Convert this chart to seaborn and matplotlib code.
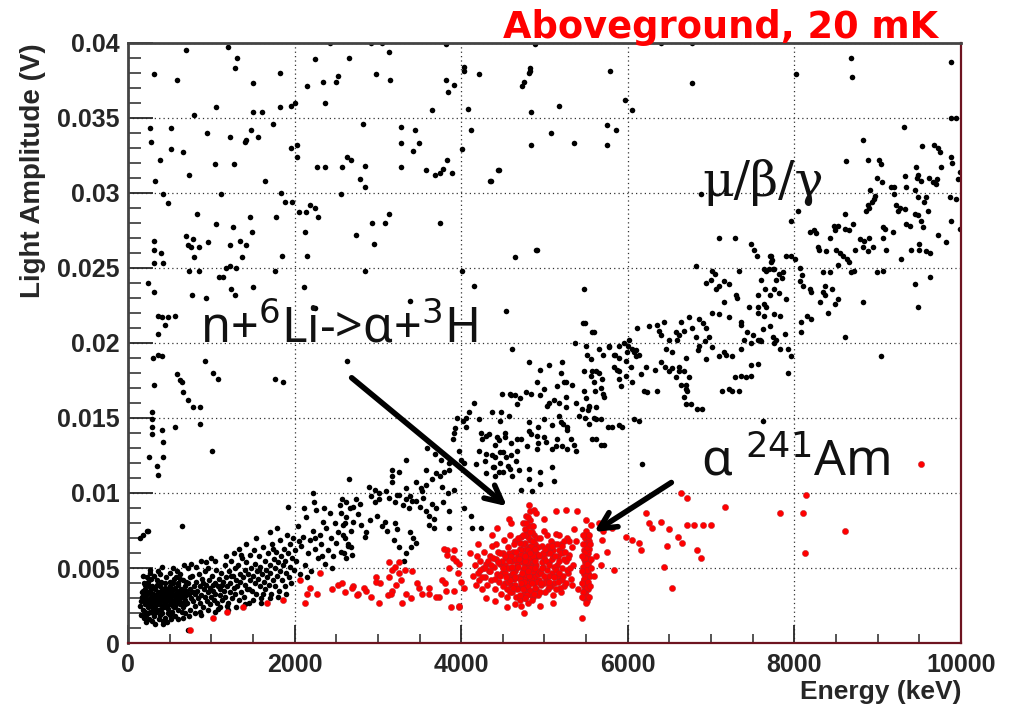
import pandas as pd
import matplotlib.pyplot as plt
import seaborn as sns
from matplotlib.ticker import MultipleLocator, FixedLocator, FixedFormatter

# Energy (keV), light amplitude (V)
gamma_low = [
    (160, .0028), (170, .0034), (175, .0022), (185, .0031), (190, .0040), (200, .0026), (205, .0036), (215, .0019),
    (220, .0030), (230, .0033), (235, .0024), (245, .0041), (250, .0029), (260, .0035), (265, .0021), (275, .0031),
    (280, .0027), (290, .0038), (295, .0023), (300, .0033), (310, .0029), (315, .0018), (320, .0036), (330, .0025),
    (335, .0031), (345, .0042), (350, .0028), (360, .0034), (365, .0022), (375, .0030), (380, .0038), (390, .0026),
    (395, .0032), (405, .0020), (410, .0036), (420, .0029), (430, .0024), (435, .0033), (445, .0040), (450, .0027),
    (460, .0031), (470, .0036), (475, .0023), (485, .0029), (490, .0034), (500, .0026), (510, .0038), (515, .0031),
    (525, .0021), (530, .0035), (540, .0028), (550, .0032), (555, .0043), (565, .0025), (570, .0037), (580, .0030),
    (590, .0034), (600, .0022), (605, .0039), (615, .0028), (620, .0033), (630, .0026), (640, .0036), (650, .0031),
    (655, .0042), (665, .0024), (670, .0035), (680, .0029), (690, .0038), (700, .0032), (255, .0016), (330, .0013),
    (420, .0015), (180, .0045), (270, .0047), (390, .0046), (470, .0014), (560, .0018), (210, .0039), (440, .0037),
    (165, .0031), (195, .0029), (225, .0027), (240, .0034), (270, .0025), (285, .0033), (305, .0027), (325, .0032),
    (340, .0021), (355, .0031), (370, .0026), (385, .0034), (400, .0029), (415, .0025), (425, .0034), (455, .0030),
    (465, .0025), (480, .0033), (495, .0031), (505, .0029), (520, .0033), (535, .0025), (545, .0036), (575, .0027),
    (585, .0032), (595, .0029), (610, .0035), (625, .0030), (645, .0027), (660, .0033), (675, .0031), (685, .0026),
    (695, .0035), (150, .0025), (200, .0021), (250, .0038), (300, .0020), (350, .0039), (400, .0023), (450, .0035),
    (500, .0041), (550, .0024), (600, .0040), (650, .0021), (700, .0041), (180, .0035), (280, .0043), (380, .0019),
    (480, .0020), (580, .0044), (680, .0020),
    (160, .0019), (190, .0017), (230, .0044), (260, .0049), (310, .0045), (360, .0048), (410, .0051), (460, .0044),
    (500, .0047), (540, .0050), (590, .0048), (630, .0046), (670, .0052), (220, .0014), (290, .0015), (370, .0016),
    (440, .0017), (520, .0016), (600, .0016), (660, .0017), (240, .0020), (320, .0022), (400, .0041), (540, .0040),
    (620, .0043), (210, .0033), (280, .0036), (345, .0026), (430, .0030), (515, .0036), (560, .0028), (635, .0032),
    (500, .0019), (720, .0050), (760, .0053), (820, .0051), (880, .0055), (940, .0054), (1000, .0057), (1050, .0055),
    (730, .0018), (800, .0020), (880, .0019), (960, .0022), (1040, .0021), (1110, .0024), (1180, .0058),
    (1270, .0060), (1330, .0063), (1420, .0066), (1200, .0022), (1300, .0024), (1400, .0026), (1500, .0029),
    (1600, .0027), (1700, .0030), (1800, .0031), (1900, .0033),
    (710, .0027), (720, .0040), (730, .0033), (740, .0022), (750, .0036), (760, .0030), (770, .0045), (780, .0028),
    (790, .0038), (800, .0033), (810, .0025), (820, .0041), (830, .0035), (840, .0030), (850, .0046), (860, .0027),
    (870, .0038), (880, .0032), (890, .0043), (900, .0024), (910, .0036), (920, .0031), (930, .0048), (940, .0039),
    (950, .0028), (960, .0034), (970, .0042), (980, .0026), (990, .0037), (1000, .0031), (1010, .0045), (1020, .0035),
    (1030, .0029), (1040, .0040), (1050, .0033), (1060, .0049), (1070, .0027), (1080, .0038), (1090, .0043),
    (1100, .0032), (1110, .0036), (1120, .0047), (1130, .0029), (1140, .0041), (1150, .0035), (1160, .0052),
    (1170, .0031), (1180, .0044), (1190, .0038), (1200, .0027), (1210, .0048), (1220, .0034), (1230, .0040),
    (1240, .0055), (1250, .0030), (1260, .0045), (1270, .0037), (1280, .0050), (1290, .0033), (1300, .0042),
    (745, .0044), (865, .0021), (955, .0050), (1075, .0023), (1185, .0025), (905, .0040), (1015, .0039),
    (785, .0034), (1125, .0039), (1235, .0045),
    (1310, .0038), (1320, .0052), (1330, .0029), (1340, .0046), (1350, .0041), (1360, .0034), (1370, .0057),
    (1380, .0044), (1390, .0031), (1400, .0049), (1410, .0039), (1420, .0054), (1430, .0036), (1440, .0046),
    (1450, .0027), (1460, .0059), (1470, .0042), (1480, .0050), (1490, .0035), (1500, .0045), (1510, .0062),
    (1520, .0040), (1530, .0053), (1540, .0033), (1550, .0048), (1560, .0043), (1570, .0058), (1580, .0038),
    (1590, .0051), (1600, .0030), (1610, .0046), (1620, .0064), (1630, .0041), (1640, .0055), (1650, .0036),
    (1660, .0049), (1670, .0044), (1680, .0060), (1690, .0039), (1700, .0052), (1710, .0047), (1720, .0033),
    (1730, .0066), (1740, .0042), (1750, .0056), (1760, .0050), (1770, .0038), (1780, .0061), (1790, .0045),
    (1800, .0054), (1810, .0035), (1820, .0069), (1830, .0048), (1840, .0058), (1850, .0042), (1860, .0052),
    (1870, .0063), (1880, .0038), (1890, .0055), (1900, .0047), (1910, .0072), (1920, .0060), (1930, .0044),
    (1940, .0066), (1950, .0051), (1960, .0040), (1970, .0057), (1980, .0070), (1990, .0049), (2000, .0062),
    (1355, .0059), (1535, .0070), (1705, .0074), (1455, .0036), (1625, .0033), (1785, .0077), (1575, .0049),
    (1745, .0063),
    (2020, .0055), (2040, .0078), (2060, .0046), (2080, .0065), (2100, .0071), (2120, .0052), (2140, .0084),
    (2160, .0060), (2180, .0069), (2200, .0048), (2220, .0075), (2240, .0063), (2260, .0089), (2280, .0057),
    (2300, .0072), (2320, .0066), (2340, .0081), (2360, .0053), (2380, .0077), (2400, .0062), (2420, .0087),
    (2440, .0070), (2460, .0058), (2480, .0080), (2500, .0067), (2520, .0074), (2540, .0092), (2560, .0061),
    (2580, .0079), (2600, .0070), (2620, .0084), (2640, .0066), (2660, .0090), (2680, .0075), (2700, .0081),
    (2110, .0090), (2230, .0094), (2330, .0058), (2450, .0050), (2570, .0096), (2690, .0059), (2150, .0044),
    (2350, .0090), (2050, .0068), (2250, .0070),
]

gamma_mid = [
    (2659, .0109), (2898, .0104), (2960, .0102), (3018, .0100), (3102, .0101), (2922, .0098), (2960, .0094),
    (3018, .0096), (2623, .0094), (2700, .0091), (2740, .0096), (2790, .0093), (3138, .0097), (3200, .0094),
    (3250, .0099), (3300, .0092), (3340, .0096), (3377, .0090), (3461, .0095), (3500, .0091), (3540, .0097),
    (3581, .0088), (3653, .0093), (3700, .0090), (3780, .0094), (3856, .0088), (3617, .0085), (3677, .0083),
    (4036, .0090), (4120, .0085), (3856, .0077), (4132, .0077), (4240, .0077), (2560, .0087), (2600, .0080),
    (2580, .0072), (2640, .0065), (2590, .0060), (2620, .0057), (2760, .0086), (2800, .0079), (2860, .0074),
    (2900, .0082), (2840, .0071), (2990, .0085), (3050, .0078), (3080, .0081), (3114, .0075), (3200, .0080),
    (3234, .0076), (3198, .0069), (3257, .0064), (3380, .0074), (3420, .0070), (3461, .0067), (3617, .0079),
    (3677, .0077), (3401, .0064), (3341, .0060), (3317, .0055), (2683, .0064),
    (3174, .0115), (3341, .0122), (3593, .0130), (3680, .0126), (3760, .0122), (3581, .0115), (3650, .0109),
    (3700, .0113), (3740, .0111), (3796, .0114), (3461, .0107), (3520, .0103), (3530, .0101), (3581, .0105),
    (3772, .0104), (3840, .0100), (3916, .0102), (3341, .0103), (3380, .0098), (3413, .0095), (3174, .0107),
    (3234, .0099), (3976, .0128), (4000, .0122), (4036, .0120), (3856, .0120), (3856, .0115),
    (4216, .0128), (4300, .0126), (4400, .0124), (4500, .0127), (4600, .0125), (4671, .0128), (4180, .0119),
    (4290, .0121), (4380, .0117), (4470, .0120), (4560, .0118), (4659, .0121), (4300, .0113), (4400, .0111),
    (4455, .0114), (4814, .0116), (4950, .0114), (5090, .0117), (4719, .0102), (4611, .0111),
    (3916, .0140), (4060, .0144), (4020, .0148), (4096, .0154), (4060, .0150), (4156, .0160), (4479, .0154),
    (4491, .0166), (4580, .0166), (4640, .0165), (4671, .0159), (4838, .0166), (4950, .0165), (5054, .0160),
    (4300, .0138), (4400, .0132), (4450, .0135), (4530, .0137), (4600, .0133), (4719, .0136), (4838, .0139),
    (4920, .0133), (5000, .0137), (5090, .0129), (5138, .0131),
    (4814, .0187), (4950, .0182), (5050, .0185), (5198, .0180), (5497, .0198), (5650, .0196), (5700, .0192),
    (5780, .0197), (5830, .0192), (5900, .0198), (6096, .0195), (4910, .0174), (5000, .0169), (5150, .0171),
    (5230, .0174), (5330, .0172), (5473, .0181), (5560, .0178), (5620, .0181), (5689, .0176), (5832, .0184),
    (5900, .0181), (5980, .0178), (6048, .0174), (6216, .0184), (6330, .0182), (6450, .0184), (6530, .0183),
    (6611, .0181), (6455, .0196), (6530, .0194), (6700, .0190), (6840, .0195), (6940, .0189), (7174, .0192),
    (6575, .0177), (6640, .0172), (6695, .0169), (6192, .0168), (6347, .0168), (7126, .0168), (7246, .0168),
    (7281, .0177), (7413, .0177), (7485, .0185), (7928, .0180), (6695, .0159), (6826, .0156), (7629, .0148),
    (4600, .0165), (4700, .0163), (4779, .0167), (5030, .0158), (5110, .0162), (5180, .0160), (5257, .0157),
    (5377, .0160), (5450, .0156), (5540, .0158), (5617, .0157), (4371, .0154), (4470, .0148), (4575, .0151),
    (4814, .0147), (4920, .0144), (5000, .0149), (5090, .0145), (5200, .0147), (5270, .0144), (5413, .0151),
    (5540, .0146), (5620, .0149), (5760, .0144), (5892, .0145), (6072, .0149), (4335, .0139), (4430, .0137),
    (4520, .0140), (4671, .0136), (4814, .0141), (4910, .0138), (5018, .0134), (4790, .0131), (4910, .0129),
    (5150, .0136), (5210, .0131), (5270, .0129), (5569, .0136), (5677, .0132), (4371, .0125), (4470, .0127),
    (4539, .0124), (4395, .0117), (4500, .0114), (4590, .0116), (4695, .0115), (4814, .0109), (4950, .0106),
    (5114, .0108), (4850, .0101), (4216, .0149), (4234, .0140), (4252, .0136),
]

gamma_high = [
    (7090, .0270), (7281, .0270), (7473, .0266), (7510, .0262), (7557, .0258), (7712, .0258), (7724, .0254),
    (6814, .0251), (7006, .0248), (7050, .0246), (7329, .0248), (7665, .0248), (7749, .0249), (6934, .0240),
    (7000, .0242), (7060, .0236), (7100, .0238), (7150, .0241), (7210, .0239), (7293, .0232), (7305, .0230),
    (7605, .0242), (7650, .0236), (7712, .0232), (7150, .0227), (7006, .0220), (7090, .0219), (7210, .0217),
    (7449, .0224), (7560, .0224), (7665, .0224), (7353, .0214), (7360, .0212), (7425, .0207), (7500, .0205),
    (7569, .0202), (7712, .0211), (7749, .0204), (6850, .0216), (6900, .0213), (6934, .0210), (6730, .0217),
    (6766, .0210), (6635, .0214), (6671, .0208), (6252, .0211), (6350, .0212), (6431, .0214), (6371, .0208),
    (6400, .0205), (6491, .0202), (6575, .0207), (6590, .0202), (6611, .0205), (6814, .0204), (6850, .0198),
    (6930, .0201), (6970, .0204), (7006, .0197), (7100, .0191), (7150, .0194), (7246, .0191), (7353, .0196),
    (7400, .0202), (7485, .0200), (7593, .0202), (7569, .0186), (7353, .0178), (7485, .0178), (7210, .0169),
    (7329, .0168), (6886, .0156), (6755, .0159), (6611, .0184), (6680, .0181), (6740, .0177), (6700, .0172),
    (6710, .0168), (6680, .0164), (6395, .0187), (6491, .0181), (6072, .0194), (6100, .0191), (6132, .0192),
    (5952, .0200), (6000, .0198), (6048, .0196), (5990, .0194), (5772, .0198), (5850, .0192), (5892, .0190),
    (6156, .0179), (6227, .0167), (6108, .0210), (6012, .0202), (5976, .0188), (6036, .0184), (5868, .0182),
    (5890, .0176), (5916, .0171), (5653, .0180), (5680, .0170), (5700, .0166), (5713, .0164), (5569, .0181),
    (5590, .0174), (5605, .0168), (5509, .0192), (5557, .0189), (5473, .0168), (5500, .0163), (5520, .0155),
    (5533, .0157), (5490, .0150), (5593, .0150), (5677, .0149), (5808, .0144), (5928, .0144), (5617, .0136),
    (5713, .0132), (5317, .0136), (5350, .0132), (5377, .0128), (5210, .0187), (5257, .0174), (5260, .0164),
    (5174, .0151), (5220, .0146), (5269, .0142), (5485, .0213), (5593, .0207), (6132, .0148), (6168, .0119),
    (9533, .0331), (9677, .0332), (9720, .0330), (9750, .0327), (9880, .0324), (9890, .0320), (9990, .0314),
    (8886, .0322), (9020, .0322), (9040, .0319), (9461, .0317), (9485, .0312), (9760, .0317), (8994, .0310),
    (9054, .0307), (9329, .0311), (9341, .0304), (9473, .0310), (9520, .0308), (9610, .0310), (9660, .0307),
    (9710, .0309), (9700, .0306), (9964, .0309), (9162, .0304), (9200, .0304), (9190, .0299), (8910, .0302),
    (8970, .0298), (8930, .0294), (8880, .0292), (8860, .0288), (8900, .0290), (8960, .0296), (9222, .0292),
    (9270, .0290), (9240, .0288), (9330, .0289), (9449, .0302), (9480, .0297), (9560, .0294), (9580, .0297),
    (9600, .0288), (9868, .0297), (9880, .0281), (9940, .0296), (9990, .0276), (9449, .0286), (9480, .0285),
    (9520, .0281), (9545, .0277), (9390, .0278), (9341, .0279), (9066, .0277), (9090, .0276), (9186, .0274),
    (8611, .0286), (8611, .0276), (8650, .0275), (8707, .0279), (8192, .0274), (8230, .0275), (8263, .0273),
    (8431, .0270), (8470, .0278), (8527, .0278), (8490, .0275), (7964, .0281), (8048, .0288), (8790, .0269),
    (8830, .0268), (8900, .0270), (8946, .0264), (9066, .0270), (9100, .0262), (9281, .0256), (9401, .0262),
    (9500, .0262), (9580, .0261), (9629, .0260), (9500, .0266), (9724, .0272), (9820, .0267), (8287, .0264),
    (8300, .0262), (8380, .0261), (8500, .0262), (8550, .0260), (8587, .0258), (8630, .0256), (8659, .0254),
    (8730, .0262), (8826, .0264), (8886, .0261), (7904, .0258), (7964, .0258), (8012, .0256), (7725, .0258),
    (7730, .0255), (7630, .0249), (7690, .0249), (7760, .0249), (7810, .0246), (7868, .0247), (7850, .0243),
    (7780, .0242), (8072, .0250), (8090, .0245), (8072, .0241), (8108, .0238), (8192, .0236), (8204, .0234),
    (8371, .0238), (8340, .0234), (8371, .0232), (8450, .0236), (8527, .0229), (8490, .0226), (8311, .0227),
    (8407, .0220), (8683, .0247), (8720, .0248), (8990, .0247), (9066, .0248), (8431, .0247), (8340, .0247),
    (8527, .0252), (8826, .0227), (9449, .0239), (9485, .0224), (9629, .0244), (7569, .0232), (7630, .0226),
    (7760, .0236), (7820, .0233), (7904, .0229), (7569, .0220), (7630, .0218), (7760, .0219), (7832, .0218),
    (7629, .0209), (7600, .0201), (7760, .0200), (7780, .0202), (7830, .0196), (7892, .0206), (8156, .0218),
    (8204, .0216), (8084, .0214), (8084, .0207), (8611, .0204), (9042, .0191), (7928, .0196), (7964, .0191),
]

black_sparse = [
    (695, .0395), (1198, .0397), (1305, .0390), (1281, .0383), (311, .0379), (587, .0375), (1820, .0380),
    (1497, .0373), (1054, .0357), (790, .0352), (1497, .0354), (1605, .0354), (1820, .0357), (1952, .0358),
    (2000, .0360), (263, .0343), (515, .0343), (946, .0340), (275, .0334), (515, .0329), (659, .0327),
    (383, .0322), (1222, .0337), (1401, .0334), (1420, .0335), (1473, .0342), (1557, .0337), (1737, .0346),
    (1952, .0330), (2024, .0332), (2024, .0324), (1042, .0319), (1270, .0319), (323, .0308), (731, .0312),
    (1641, .0308), (419, .0299), (1114, .0299), (1832, .0300), (1880, .0294), (1964, .0294), (479, .0293),
    (826, .0286), (1054, .0279), (1257, .0277), (1461, .0284), (1485, .0274), (1772, .0284), (2048, .0287),
    (311, .0268), (695, .0271), (780, .0269), (720, .0265), (760, .0264), (850, .0264), (960, .0267),
    (1222, .0265), (1340, .0268), (1420, .0265), (311, .0262), (400, .0260), (420, .0253), (311, .0253),
    (790, .0257), (1365, .0257), (1844, .0258), (731, .0248), (850, .0248), (1180, .0250), (1230, .0251),
    (1300, .0250), (1090, .0244), (1140, .0244), (1760, .0248), (239, .0240), (311, .0234), (770, .0232),
    (940, .0230), (1240, .0236), (1280, .0232), (1497, .0237), (2108, .0237), (360, .0218), (410, .0217),
    (480, .0217), (560, .0218), (450, .0212), (360, .0206),
    (2240, .0389), (2659, .0390), (3138, .0394), (2982, .0379), (2144, .0371), (2347, .0374), (2500, .0374),
    (2527, .0378), (3150, .0375), (2371, .0360), (2420, .0400), (2920, .0400), (3050, .0400), (3820, .0399),
    (3820, .0375), (3916, .0372), (3840, .0367), (4036, .0381), (4036, .0384), (3653, .0355), (4084, .0356),
    (2826, .0346), (3280, .0344), (3450, .0342), (3490, .0333), (3280, .0333), (3420, .0328), (4120, .0342),
    (2635, .0324), (2683, .0322), (2264, .0317), (2371, .0317), (2575, .0317), (2850, .0318), (3282, .0317),
    (2790, .0309), (2850, .0304), (3580, .0315), (3690, .0312), (3750, .0313), (3780, .0316), (3890, .0313),
    (3830, .0322), (4012, .0329), (4347, .0308), (4455, .0315), (4838, .0332), (4838, .0354), (4755, .0374),
    (4826, .0381), (4826, .0383), (4215, .0379), (4886, .0399), (2563, .0299), (2120, .0274), (2190, .0292),
    (2240, .0290), (2280, .0284), (2140, .0287), (2743, .0272), (2934, .0280), (3090, .0280), (3138, .0286),
    (2958, .0266), (2144, .0258), (2850, .0248), (3748, .0280), (4012, .0248), (4156, .0238), (4910, .0262),
    (4647, .0257), (3389, .0228), (4539, .0221), (2240, .0223),
    (5784, .0381), (5174, .0358), (5964, .0362), (6048, .0355), (5748, .0345), (5856, .0342), (5078, .0340),
    (5353, .0333), (5748, .0332), (6766, .0373), (6395, .0400), (6766, .0400), (8024, .0379), (8683, .0390),
    (8695, .0377), (9880, .0387), (9880, .0350), (9940, .0350), (9317, .0344), (8826, .0335), (8623, .0321),
    (6874, .0299), (4814, .0380), (4735, .0371), (4443, .0315), (4359, .0308), (4898, .0262), (5473, .0236),
    (5461, .0213), (5569, .0207), (4611, .0196), (5365, .0200),
    (300, .0190), (360, .0192), (410, .0191), (922, .0188), (1018, .0180), (1078, .0176), (1760, .0176),
    (1856, .0174), (2635, .0188), (311, .0172), (587, .0179), (620, .0175), (647, .0174), (659, .0167),
    (720, .0162), (778, .0157), (862, .0157), (287, .0154), (290, .0149), (287, .0144), (287, .0139),
    (407, .0142), (415, .0134), (419, .0124), (563, .0144), (862, .0146), (1006, .0128), (251, .0124),
    (347, .0118), (359, .0112), (647, .0078), (144, .0070), (227, .0075), (180, .0072), (240, .0075),
    (1916, .0091), (2216, .0100), (719, .0009), (419, .0013), (3174, .0111), (3257, .0114), (3900, .0136),
    (3930, .0143), (3950, .0150),
]

alpha_blob = [
    (4140, .0045), (4160, .0052), (4175, .0039), (4190, .0058), (4200, .0047), (4215, .0042), (4230, .0055),
    (4245, .0036), (4260, .0050), (4275, .0061), (4290, .0044), (4300, .0053), (4315, .0039), (4330, .0048),
    (4345, .0058), (4360, .0042), (4375, .0065), (4390, .0051), (4400, .0036), (4415, .0056), (4430, .0046),
    (4445, .0061), (4455, .0041), (4470, .0053),
    (4480, .0033), (4490, .0047), (4500, .0060), (4510, .0069), (4520, .0040), (4530, .0052), (4540, .0057),
    (4550, .0036), (4560, .0064), (4570, .0045), (4580, .0050), (4590, .0072), (4600, .0039), (4610, .0055),
    (4620, .0061), (4630, .0043), (4640, .0048), (4650, .0068), (4660, .0031), (4670, .0053), (4680, .0058),
    (4690, .0037), (4700, .0063), (4485, .0055), (4525, .0047), (4565, .0041), (4605, .0046), (4645, .0056),
    (4685, .0044), (4545, .0031), (4615, .0034), (4505, .0038), (4575, .0060), (4655, .0050),
    (4710, .0029), (4715, .0045), (4720, .0071), (4725, .0054), (4730, .0038), (4735, .0062), (4740, .0049),
    (4745, .0080), (4750, .0033), (4755, .0058), (4760, .0043), (4765, .0067), (4770, .0052), (4775, .0085),
    (4780, .0036), (4785, .0060), (4790, .0047), (4795, .0074), (4800, .0055), (4805, .0027), (4810, .0064),
    (4815, .0041), (4820, .0088), (4825, .0050), (4830, .0069), (4835, .0035), (4840, .0058), (4845, .0078),
    (4850, .0045), (4855, .0062), (4860, .0031), (4865, .0053), (4870, .0072), (4875, .0040), (4880, .0057),
    (4885, .0066), (4890, .0048), (4895, .0036), (4900, .0060), (4760, .0030), (4790, .0040), (4820, .0044),
    (4850, .0052), (4880, .0044), (4740, .0066), (4800, .0071), (4830, .0033), (4770, .0076), (4810, .0051),
    (4840, .0065), (4860, .0048), (4730, .0057), (4780, .0063), (4820, .0057), (4860, .0068), (4750, .0050),
    (4790, .0054), (4830, .0082), (4870, .0055), (4800, .0038), (4840, .0043),
    (4910, .0070), (4925, .0046), (4940, .0058), (4955, .0039), (4970, .0065), (4985, .0051), (5000, .0075),
    (5015, .0043), (5030, .0060), (5045, .0036), (5060, .0054), (5075, .0068), (5090, .0047), (5105, .0062),
    (5120, .0040), (5135, .0073), (5150, .0052), (5165, .0058), (5180, .0044), (5195, .0066), (5210, .0050),
    (5225, .0061), (5240, .0038), (5255, .0055), (5270, .0070), (5285, .0047), (5300, .0059), (5315, .0043),
    (5330, .0064), (5345, .0052), (4935, .0048), (4965, .0054), (4995, .0057), (5025, .0049), (5055, .0063),
    (5085, .0056), (5115, .0051), (5145, .0045), (5175, .0062), (5205, .0042), (5235, .0056), (5265, .0049),
    (4920, .0032), (5010, .0034), (5100, .0032), (5200, .0034),
    (4551, .0024), (4719, .0025), (4755, .0020), (4575, .0083), (4371, .0072), (4431, .0077), (5138, .0088),
    (5260, .0089), (5389, .0088), (4814, .0092), (4870, .0089), (4900, .0087), (5497, .0082), (5557, .0079),
    (4300, .0030), (4200, .0066), (4600, .0080), (5000, .0083), (5350, .0076), (5100, .0027), (4950, .0025),
    (4650, .0026), (4400, .0028), (5400, .0036), (5380, .0068), (4100, .0060),
]

alpha_core = [
    (4560, .0050), (4580, .0042), (4600, .0058), (4620, .0047), (4640, .0039), (4660, .0061), (4680, .0051),
    (4700, .0043), (4720, .0059), (4740, .0036), (4760, .0055), (4780, .0046), (4800, .0062), (4820, .0035),
    (4840, .0050), (4860, .0058), (4880, .0037), (4900, .0052), (4920, .0064), (4940, .0042), (4960, .0047),
    (4980, .0060), (5000, .0040), (5020, .0055), (5040, .0065), (5060, .0045), (5080, .0038), (5100, .0058),
    (5120, .0066), (5140, .0049), (5160, .0041), (5180, .0055), (5200, .0060), (5220, .0045), (5240, .0068),
    (5260, .0040), (5280, .0057), (4590, .0034), (4630, .0066), (4670, .0036), (4710, .0067), (4750, .0041),
    (4790, .0032), (4810, .0078), (4830, .0060), (4850, .0074), (4870, .0033), (4890, .0063), (4910, .0041),
    (4950, .0070), (4990, .0045), (5030, .0072), (5070, .0060), (5110, .0044), (5150, .0066), (5190, .0037),
    (4520, .0058), (4540, .0044), (4500, .0050), (4470, .0045), (4440, .0054), (4410, .0043), (4380, .0057),
    (4350, .0048), (4320, .0055), (4290, .0050), (4250, .0044), (4220, .0049), (4780, .0080), (4800, .0084),
    (4760, .0072), (4830, .0074), (4740, .0072), (4860, .0078), (4770, .0030), (4850, .0029), (4700, .0032),
    (4950, .0034), (5050, .0038), (5170, .0072), (5310, .0050), (5330, .0039), (5290, .0068), (4680, .0070),
    (4570, .0055), (4610, .0051), (4650, .0044), (4690, .0056), (4730, .0047), (4770, .0058), (4810, .0045),
    (4850, .0040), (4890, .0055), (4930, .0059), (4970, .0050), (5010, .0063), (5050, .0052), (5090, .0065),
    (5130, .0058), (5170, .0047), (5210, .0065), (5250, .0061), (4620, .0037), (4720, .0040), (4800, .0048),
    (4880, .0050), (4960, .0040), (5060, .0041), (5140, .0036), (4460, .0060), (4420, .0066), (4360, .0052),
]

am_line = [
    (5470, .0030), (5490, .0034), (5510, .0028), (5480, .0038), (5500, .0042), (5520, .0036), (5470, .0046),
    (5495, .0050), (5515, .0044), (5485, .0054), (5505, .0058), (5525, .0052), (5475, .0062), (5500, .0066),
    (5520, .0060), (5490, .0070), (5510, .0073), (5530, .0068), (5480, .0042), (5500, .0032), (5525, .0047),
    (5470, .0056), (5490, .0061), (5515, .0039), (5530, .0055), (5460, .0051), (5540, .0063), (5495, .0045),
    (5505, .0053), (5485, .0066), (5510, .0049), (5480, .0035), (5520, .0071), (5500, .0075), (5495, .0027),
    (5510, .0064), (5475, .0043), (5525, .0041), (5490, .0057), (5505, .0037),
    (5450, .0040), (5455, .0058), (5460, .0034), (5445, .0048), (5465, .0066), (5550, .0045), (5555, .0056),
    (5545, .0038), (5560, .0050), (5550, .0066), (5540, .0031), (5455, .0031), (5535, .0072), (5465, .0072),
]

red_sparse = [
    (1665, .0027), (1856, .0029), (2120, .0027), (2150, .0033), (2180, .0037), (2455, .0036), (2520, .0039),
    (2600, .0034), (2700, .0038), (2760, .0033), (2862, .0035), (2982, .0044), (3030, .0040), (3120, .0032),
    (3174, .0035), (3257, .0047), (3330, .0049), (3413, .0048), (3138, .0054), (3174, .0049), (3497, .0037),
    (3617, .0037), (3293, .0027), (3736, .0031), (3976, .0024), (3832, .0062), (3900, .0057), (3976, .0053),
    (743, .0009), (1018, .0017), (1186, .0021), (1377, .0024), (2060, .0042), (2264, .0033), (2300, .0047),
    (2575, .0040), (2695, .0037), (2755, .0032), (2838, .0037), (2922, .0031), (2982, .0041), (3018, .0027),
    (3138, .0044), (3162, .0033), (3222, .0039), (3281, .0042), (3341, .0033), (3401, .0030), (3473, .0040),
    (3533, .0033), (3617, .0033), (3701, .0031), (3772, .0042), (3820, .0035), (3880, .0024), (3200, .0051),
    (3257, .0054), (3832, .0059), (3916, .0062), (3940, .0055), (3960, .0047), (4000, .0041), (4036, .0037),
    (3796, .0063), (3850, .0050), (3800, .0040), (3916, .0035), (3976, .0025),
    (9521, .0119), (8132, .0060), (8611, .0075), (8108, .0087), (7832, .0087), (7162, .0091), (8144, .0099),
    (6707, .0079), (6800, .0079), (6900, .0079), (6994, .0079), (6635, .0100), (6707, .0097), (6216, .0087),
    (6250, .0080), (6287, .0077), (6395, .0081), (6500, .0076), (6600, .0071), (6647, .0067), (6467, .0065),
    (6826, .0062), (6874, .0057), (6156, .0062), (5976, .0071), (6050, .0069), (6132, .0067), (6431, .0051),
    (6527, .0037), (5832, .0049), (5689, .0069), (5748, .0061), (5449, .0017), (5808, .0077), (5650, .0080),
    (5700, .0075), (5620, .0058), (5600, .0045), (5680, .0052),
]

x_ticks = [0, 2000, 4000, 6000, 8000, 10000]
x_tick_labels = ["0", "2000", "4000", "6000", "8000", "10000"]
y_ticks = [0, 0.005, 0.01, 0.015, 0.02, 0.025, 0.03, 0.035, 0.04]
y_tick_labels = ["0", "0.005", "0.01", "0.015", "0.02", "0.025", "0.03", "0.035", "0.04"]

cols = ["energy", "amp"]
black = pd.DataFrame(gamma_low + gamma_mid + gamma_high + black_sparse, columns=cols)
red = pd.DataFrame(alpha_blob + alpha_core + am_line + red_sparse, columns=cols)

sns.set_style("white")
plt.rcParams["font.family"] = ["Liberation Sans", "DejaVu Sans"]

fig = plt.figure(figsize=(10.15, 7.06), dpi=100)
ax = fig.add_axes([0.1261, 0.0892, 0.8207, 0.850])

sns.scatterplot(data=black, x="energy", y="amp", ax=ax, color="black", s=16,
                marker="o", linewidth=0, legend=False)
sns.scatterplot(data=red, x="energy", y="amp", ax=ax, color="#ff0000", s=20,
                marker="o", edgecolor="#b0202a", linewidth=0.3, legend=False)

ax.set_xlim(0, 10000)
ax.set_ylim(0, 0.04)
ax.xaxis.set_major_locator(FixedLocator(x_ticks))
ax.xaxis.set_major_formatter(FixedFormatter(x_tick_labels))
ax.yaxis.set_major_locator(FixedLocator(y_ticks))
ax.yaxis.set_major_formatter(FixedFormatter(y_tick_labels))
ax.xaxis.set_minor_locator(MultipleLocator(500))
ax.yaxis.set_minor_locator(MultipleLocator(0.001))

ax.grid(True, which="major", color="#333333", linestyle=(0, (1, 2.5)), linewidth=0.9)
ax.set_axisbelow(True)

ax.tick_params(axis="x", which="major", direction="in", length=13, width=1.3, pad=7,
               labelsize=18, top=False, bottom=True)
ax.tick_params(axis="x", which="minor", direction="in", length=6.5, width=1.1, top=False, bottom=True)
ax.tick_params(axis="y", which="major", direction="in", length=18, width=1.3, pad=6,
               labelsize=18, right=False, left=True)
ax.tick_params(axis="y", which="minor", direction="in", length=9, width=1.1, right=False, left=True)
for lab in ax.get_xticklabels() + ax.get_yticklabels():
    lab.set_fontweight("bold")

for side in ["top", "left"]:
    ax.spines[side].set_color("#444444")
    ax.spines[side].set_linewidth(2)
for side in ["bottom", "right"]:
    ax.spines[side].set_color("#6e1420")
    ax.spines[side].set_linewidth(1.6)

ax.set_xlabel("Energy (keV)", fontsize=19, fontweight="bold", loc="right", labelpad=2)
ax.set_ylabel("Light Amplitude (V)", fontsize=20, fontweight="bold", loc="top", labelpad=8)

# annotations
ax.text(6900, 0.0298, "μ/β/γ", fontsize=35, family="DejaVu Serif", color="#111111")
ax.text(860, 0.0200, "n+$^{6}$Li->α+$^{3}$H", fontsize=35, family="Noto Sans", color="#111111")
ax.text(6880, 0.0112, "α $^{241}$Am", fontsize=36, family="Noto Sans", color="#111111")
ax.annotate("", xy=(4575, 0.0090), xytext=(2659, 0.0178),
            arrowprops=dict(arrowstyle="->,head_length=1.2,head_width=0.6", color="black", lw=4))
ax.annotate("", xy=(5569, 0.0073), xytext=(6551, 0.0108),
            arrowprops=dict(arrowstyle="->,head_length=1.2,head_width=0.6", color="black", lw=4))

fig.text(503 / 1015, 1 - 38 / 706, "Aboveground, 20 mK", color="#ff0000", fontsize=26.5,
         fontweight="bold", family="DejaVu Sans", va="baseline", ha="left")

fig.savefig("out.png", dpi=100)
